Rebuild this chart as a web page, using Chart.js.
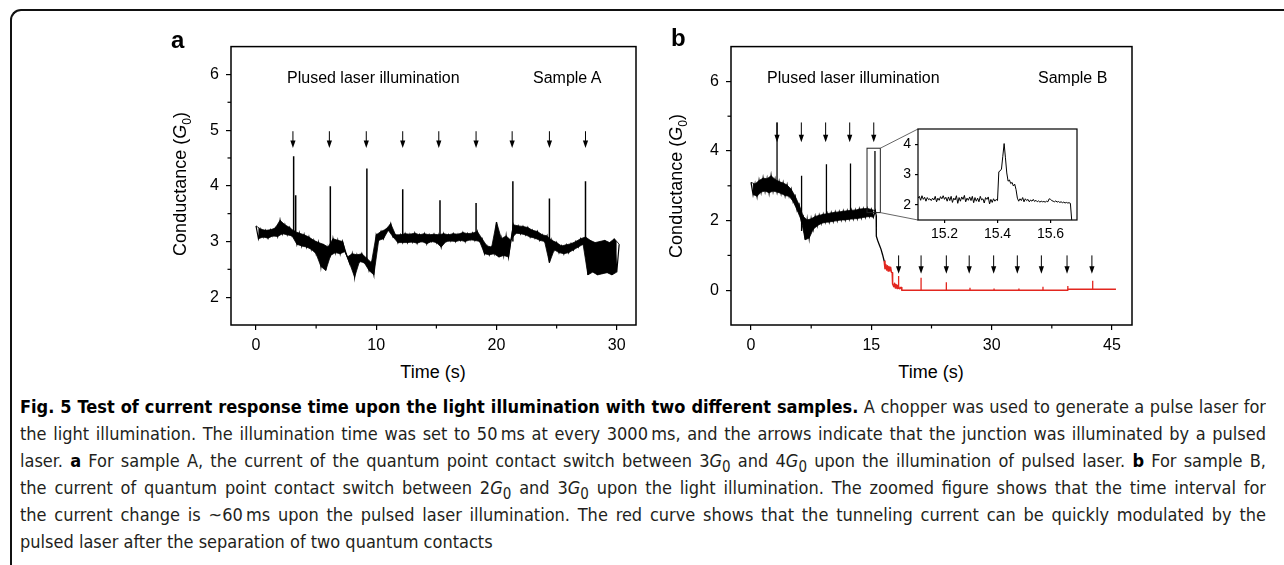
<!DOCTYPE html>
<html>
<head>
<meta charset="utf-8">
<script src="https://cdn.jsdelivr.net/npm/chart.js@4.4.1/dist/chart.umd.min.js"></script>
<style>
  html, body { margin: 0; padding: 0; background: #fff; }
  #page { position: relative; width: 1284px; height: 565px; overflow: hidden; font-family: "Liberation Sans", Arial, sans-serif; color: #000; }
  .frame { position: absolute; left: 10px; top: 9px; width: 1400px; height: 700px; border-top: 2px solid #111; border-left: 2px solid #111; border-top-left-radius: 11px; }
  .wrap { position: absolute; }
  .txt { position: absolute; white-space: nowrap; line-height: 1; }
  .letter { font-weight: bold; font-size: 24px; }
  .note { font-size: 16px; }
  .axt { font-size: 18px; }
  .ytitle { transform: translate(-50%, -50%) rotate(-90deg); }
  .caption { position: absolute; left: 20px; top: 393px; width: 1246px; font-family: "Liberation Sans Narrow", "Arial Narrow", "DejaVu Sans Condensed", sans-serif; font-size: 18px; color: #231f20; }
  .caption div { height: 27px; line-height: 27px; overflow: hidden; text-align: justify; text-align-last: justify; }
  .caption div.last { text-align-last: left; }
  .caption b { color: #000; }
</style>
</head>
<body>
<div id="page">
  <div class="frame"></div>

  <div class="wrap" style="left:170px; top:30px; width:480px; height:330px;"><canvas id="chartA"></canvas></div>
  <div class="wrap" style="left:670px; top:30px; width:480px; height:330px;"><canvas id="chartB"></canvas></div>
  <div class="wrap" style="left:870px; top:115px; width:215px; height:135px;"><canvas id="chartInset"></canvas></div>

  <div class="txt letter" style="left:171px; top:28px;">a</div>
  <div class="txt letter" style="left:671px; top:26px;">b</div>

  <div class="txt note" style="left:287px; top:70px;">Plused laser illumination</div>
  <div class="txt note" style="left:533px; top:70px;">Sample A</div>
  <div class="txt note" style="left:767px; top:70px;">Plused laser illumination</div>
  <div class="txt note" style="left:1038px; top:70px;">Sample B</div>

  <div class="txt axt ytitle" style="left:182px; top:184px;">Conductance (<i>G</i><sub style="font-size:12px;">0</sub>)</div>
  <div class="txt axt ytitle" style="left:678px; top:186px;">Conductance (<i>G</i><sub style="font-size:12px;">0</sub>)</div>
  <div class="txt axt" style="left:433px; top:363px; transform:translateX(-50%);">Time (s)</div>
  <div class="txt axt" style="left:931px; top:363px; transform:translateX(-50%);">Time (s)</div>

  <div class="caption">
    <div><b>Fig. 5 Test of current response time upon the light illumination with two different samples.</b> A chopper was used to generate a pulse laser for</div>
    <div>the light illumination. The illumination time was set to 50&#8201;ms at every 3000&#8201;ms, and the arrows indicate that the junction was illuminated by a pulsed</div>
    <div>laser. <b>a</b> For sample A, the current of the quantum point contact switch between 3<i>G</i><sub>0</sub> and 4<i>G</i><sub>0</sub> upon the illumination of pulsed laser. <b>b</b> For sample B,</div>
    <div>the current of quantum point contact switch between 2<i>G</i><sub>0</sub> and 3<i>G</i><sub>0</sub> upon the light illumination. The zoomed figure shows that the time interval for</div>
    <div>the current change is ~60&#8201;ms upon the pulsed laser illumination. The red curve shows that the tunneling current can be quickly modulated by the</div>
    <div class="last">pulsed laser after the separation of two quantum contacts</div>
  </div>
</div>

<script>
// ---- panel a : sample A, sampled every 0.2 s from t = 0 ----
const A_T0 = 0;
const A_DT = 0.2;
const aCond = [
    3.28, 3.05, 3.22, 3.08, 3.20, 3.06, 3.21, 3.10, 3.24, 3.09,
    3.38, 3.14, 3.30, 3.12, 3.25, 3.10, 3.18, 2.95, 3.15, 2.92,
    3.12, 2.90, 3.08, 2.86, 3.02, 2.78, 2.98, 2.55, 2.95, 2.48,
    2.90, 2.75, 3.05, 2.80, 3.02, 2.78, 3.00, 2.82, 2.72, 2.60,
    2.78, 2.36, 2.76, 2.64, 2.78, 2.62, 2.70, 2.48, 2.62, 2.40,
    3.12, 3.02, 3.18, 3.05, 3.22, 3.20, 3.32, 3.08, 3.12, 2.98,
    3.12, 2.98, 3.14, 2.98, 3.13, 2.99, 3.15, 2.97, 3.12, 3.00,
    3.14, 2.96, 3.12, 3.00, 3.13, 2.98, 3.12, 2.90, 3.14, 3.00,
    3.12, 3.01, 3.14, 3.00, 3.13, 3.02, 3.16, 3.00, 3.14, 3.03,
    3.15, 3.02, 3.18, 3.00, 3.05, 2.78, 2.92, 2.76, 2.90, 2.78,
    3.35, 2.72, 3.05, 2.75, 3.10, 2.72, 3.02, 3.30, 3.15, 3.28,
    3.14, 3.27, 3.12, 3.25, 3.08, 3.20, 3.06, 3.18, 3.02, 3.12,
    3.00, 3.10, 2.62, 3.02, 2.85, 2.98, 2.80, 2.92, 2.78, 2.94,
    2.80, 2.96, 2.85, 3.00, 2.90, 3.05, 2.95, 3.08, 2.40, 3.02,
    2.45, 2.98, 2.40, 3.00, 2.42, 3.02, 2.44, 2.98, 2.40, 3.05,
    2.45, 2.95
];
const aSpikeT    = [3.13, 3.3, 6.18, 9.22, 12.2, 15.3, 18.3, 21.36, 24.4, 27.4];
const aSpikeTop  = [4.53, 3.83, 3.99, 4.31, 3.94, 3.74, 3.69, 4.08, 3.77, 4.08];
const aSpikeBase = [3.15, 3.10, 2.80, 2.60, 3.05, 3.05, 3.05, 3.00, 3.00, 3.00];
const aArrowT = [3.07, 6.1, 9.17, 12.2, 15.2, 18.3, 21.3, 24.4, 27.4];
const aArrowTop = 4.98;
const aArrowTip = 4.68;

// ---- panel b : sample B, black part sampled every 0.25 s from t = 0 ----
const B_T0 = 0;
const B_DT = 0.25;
const bCond = [
    3.10, 2.75, 3.05, 2.70, 3.15, 2.82, 3.22, 2.85, 3.20, 2.80,
    3.29, 2.85, 3.18, 2.82, 3.12, 2.78, 3.08, 2.72, 3.02, 2.70,
    2.90, 2.55, 2.70, 2.30, 2.45, 2.02, 2.12, 1.45, 2.02, 1.50,
    2.05, 1.75, 2.12, 1.85, 2.15, 1.92, 2.18, 1.95, 2.20, 1.96,
    2.22, 1.98, 2.24, 2.00, 2.25, 2.02, 2.27, 2.02, 2.28, 2.04,
    2.30, 2.05, 2.30, 2.06, 2.33, 2.08, 2.34, 2.10, 2.35, 2.12,
    2.32, 2.10, 2.28
];
const bTailT = [15.6, 15.62, 15.8, 16.0, 16.2, 16.4, 16.6];
const bTailY = [2.15, 1.55, 1.42, 1.30, 1.18, 1.02, 0.84];
const bRedT = [16.6, 16.7, 16.8, 16.9, 17.0, 17.1, 17.2, 17.3, 17.4, 17.5, 17.6, 17.65, 17.8, 17.9, 18.0, 18.1, 18.2, 18.3, 18.5, 18.7, 18.8, 39.4, 39.5, 45.5];
const bRedY = [0.84, 0.62, 0.74, 0.58, 0.70, 0.55, 0.68, 0.56, 0.66, 0.52, 0.50, 0.18, 0.10, 0.20, 0.06, 0.16, 0.05, 0.14, 0.04, 0.08, 0.00, 0.00, 0.03, 0.03];
const bSpikeT    = [3.24, 6.3, 9.4, 12.4, 15.45];
const bSpikeTop  = [4.82, 3.29, 3.62, 3.64, 4.00];
const bSpikeBase = [3.00, 1.70, 2.00, 2.10, 2.20];
const bRedSpikeT    = [18.4, 21.2, 24.35, 27.3, 30.3, 33.4, 36.4, 39.5, 42.6];
const bRedSpikeTop  = [0.41, 0.36, 0.23, 0.07, 0.05, 0.05, 0.10, 0.12, 0.27];
const bRedSpikeBase = [0.05, 0.00, 0.00, 0.00, 0.00, 0.00, 0.00, 0.03, 0.03];
const bArrowHiT = [3.24, 6.27, 9.3, 12.3, 15.3];
const bArrowHiTop = 4.82;
const bArrowHiTip = 4.25;
const bArrowLoT = [18.4, 21.2, 24.35, 27.2, 30.25, 33.2, 36.2, 39.4, 42.5];
const bArrowLoTop = 1.0;
const bArrowLoTip = 0.47;
// zoomed window marked in panel b (time s, conductance)
const bZoomT = [14.46, 16.12];
const bZoomG = [2.23, 4.08];

// ---- inset : 15.1 .. 15.68 s, every 5 ms ----
const IN_T0 = 15.1;
const IN_DT = 0.005;
const inCond = [
    2.22, 2.28, 2.15, 2.30, 2.18, 2.25, 2.12, 2.24, 2.17, 2.20,
    2.14, 2.22, 2.16, 2.28, 2.10, 2.22, 2.15, 2.27, 2.20, 2.30,
    2.18, 2.25, 2.12, 2.26, 2.14, 2.28, 2.08, 2.22, 2.16, 2.30,
    2.05, 2.24, 2.12, 2.26, 2.18, 2.31, 2.10, 2.22, 2.15, 2.26,
    2.14, 2.28, 2.07, 2.24, 2.12, 2.22, 2.10, 2.28, 2.16, 2.20,
    2.06, 2.24, 2.18, 2.26, 2.03, 2.18, 2.08, 2.20, 2.12, 2.18,
    2.14, 3.09, 3.12, 3.18, 3.60, 4.02, 3.55, 3.05, 2.78, 2.82,
    2.70, 2.74, 2.62, 2.68, 2.50, 2.22, 2.12, 2.20, 2.14, 2.24,
    2.10, 2.20, 2.14, 2.18, 2.10, 2.16, 2.12, 2.18, 2.11, 2.15,
    2.10, 2.13, 2.09, 2.12, 2.10, 2.11, 2.09, 2.12, 2.10, 2.20,
    2.18, 2.14, 2.12, 2.10, 2.13, 2.09, 2.11, 2.08, 2.10, 2.07,
    2.09, 2.06, 2.08, 2.06, 2.07, 2.05, 1.50
];

// tick values
const aTicksX = [0, 10, 20, 30];
const aMinorX = [5, 15, 25];
const aTicksY = [2, 3, 4, 5, 6];
const aMinorY = [2.5, 3.5, 4.5, 5.5];
const bTicksX = [0, 15, 30, 45];
const bMinorX = [7.5, 22.5, 37.5];
const bTicksY = [0, 2, 4, 6];
const bMinorY = [1, 3, 5];
const inTicksX = [15.2, 15.4, 15.6];
const inTicksY = [2, 3, 4];

// layout of the inset plot area on the page, used for the connector lines
const INSET_AREA = { left: 918, top: 129, right: 1077, bottom: 220 };
const B_ORIGIN = { left: 670, top: 30 };

const RED = '#e2261f';
const FONT = '"Liberation Sans", Arial, sans-serif';

function sampled(t0, dt, values) {
    return values.map((v, i) => ({ x: +(t0 + i * dt).toFixed(4), y: v }));
}
// every other sample of a noisy trace (parity 0 = crests, 1 = troughs), used to shade the noise band
function alternate(t0, dt, values, parity) {
    return sampled(t0, dt, values).filter((p, i) => i % 2 === parity);
}
function paired(ts, ys) {
    return ts.map((t, i) => ({ x: t, y: ys[i] }));
}
function spikes(ts, tops, bases) {
    const pts = [];
    ts.forEach((t, i) => {
        pts.push({ x: t, y: bases[i] }, { x: t, y: tops[i] }, { x: t, y: null });
    });
    return pts;
}
function line(data, color, width, join) {
    return { data, borderColor: color, borderWidth: width, pointRadius: 0, tension: 0, fill: false, spanGaps: false, borderJoinStyle: join || 'round' };
}
function bandPair(t0, dt, values, color) {
    return [
        { data: alternate(t0, dt, values, 0), borderColor: color, borderWidth: 0.8, backgroundColor: color, pointRadius: 0, tension: 0, fill: '+1' },
        { data: alternate(t0, dt, values, 1), borderColor: color, borderWidth: 0.8, pointRadius: 0, tension: 0, fill: false }
    ];
}

function axis(min, max, ticks, size, fontSize, tickLen, pad, pos) {
    return {
        type: 'linear',
        position: pos,
        min, max,
        afterBuildTicks: s => { s.ticks = ticks.map(v => ({ value: v })); },
        afterFit: s => { if (pos === 'left') s.width = size; else s.height = size; },
        grid: { display: true, drawOnChartArea: false, drawTicks: true, tickLength: tickLen, color: '#000', lineWidth: 1.2 },
        border: { display: false },
        ticks: {
            color: '#000',
            padding: pad,
            font: { family: FONT, size: fontSize },
            maxRotation: 0,
            autoSkip: false,
            callback: v => String(v)
        }
    };
}

// box, minor ticks, arrows and zoom window
function decor(cfg) {
    return {
        id: 'decor',
        afterDraw(chart) {
            const ctx = chart.ctx;
            const area = chart.chartArea;
            const xs = chart.scales.x, ys = chart.scales.y;
            ctx.save();
            ctx.strokeStyle = '#000';
            ctx.lineWidth = cfg.boxWidth || 1.5;
            ctx.strokeRect(area.left, area.top, area.right - area.left, area.bottom - area.top);

            ctx.lineWidth = 1.2;
            (cfg.minorX || []).forEach(v => {
                const x = xs.getPixelForValue(v);
                ctx.beginPath(); ctx.moveTo(x, area.bottom); ctx.lineTo(x, area.bottom + 3.5); ctx.stroke();
            });
            (cfg.minorY || []).forEach(v => {
                const y = ys.getPixelForValue(v);
                ctx.beginPath(); ctx.moveTo(area.left, y); ctx.lineTo(area.left - 3.5, y); ctx.stroke();
            });

            (cfg.arrows || []).forEach(set => {
                set.t.forEach(t => {
                    const x = xs.getPixelForValue(t);
                    const y0 = ys.getPixelForValue(set.top);
                    const y1 = ys.getPixelForValue(set.tip);
                    ctx.lineWidth = 1;
                    ctx.beginPath(); ctx.moveTo(x, y0); ctx.lineTo(x, y1 - 5); ctx.stroke();
                    ctx.fillStyle = '#000';
                    ctx.beginPath();
                    ctx.moveTo(x - 2.6, y1 - 7.5);
                    ctx.lineTo(x + 2.6, y1 - 7.5);
                    ctx.lineTo(x, y1);
                    ctx.closePath();
                    ctx.fill();
                });
            });

            if (cfg.zoom) {
                const z = cfg.zoom;
                const x0 = xs.getPixelForValue(z.t[0]), x1 = xs.getPixelForValue(z.t[1]);
                const yTop = ys.getPixelForValue(z.g[1]), yBot = ys.getPixelForValue(z.g[0]);
                ctx.lineWidth = 1;
                ctx.strokeStyle = '#222';
                ctx.strokeRect(x0, yTop, x1 - x0, yBot - yTop);
                const tx = z.area.left - z.origin.left;
                ctx.strokeStyle = '#555';
                ctx.lineWidth = 0.9;
                ctx.beginPath();
                ctx.moveTo(x1, yTop); ctx.lineTo(tx, z.area.top - z.origin.top);
                ctx.moveTo(x1, yBot); ctx.lineTo(tx, z.area.bottom - z.origin.top);
                ctx.stroke();
            }
            ctx.restore();
        }
    };
}

function baseOptions(xAxis, yAxis, padding) {
    return {
        responsive: true,
        maintainAspectRatio: false,
        animation: false,
        events: [],
        layout: { padding },
        plugins: { legend: { display: false }, tooltip: { enabled: false }, filler: { propagate: false } },
        scales: { x: xAxis, y: yAxis }
    };
}

new Chart(document.getElementById('chartA'), {
    type: 'line',
    data: {
        datasets: [
            ...bandPair(A_T0, A_DT, aCond, '#000'),
            line(sampled(A_T0, A_DT, aCond), '#000', 1.2, 'miter'),
            line(spikes(aSpikeT, aSpikeTop, aSpikeBase), '#000', 1.5)
        ]
    },
    options: baseOptions(
        axis(-2.08, 31.6, aTicksX, 35, 16, 5, 6, 'bottom'),
        axis(1.5, 6.5, aTicksY, 61, 16, 5, 7, 'left'),
        { left: 0, right: 14, top: 13, bottom: 0 }
    ),
    plugins: [decor({
        minorX: aMinorX, minorY: aMinorY,
        arrows: [{ t: aArrowT, top: aArrowTop, tip: aArrowTip }]
    })]
});

new Chart(document.getElementById('chartB'), {
    type: 'line',
    data: {
        datasets: [
            ...bandPair(B_T0, B_DT, bCond, '#000'),
            line(sampled(B_T0, B_DT, bCond).concat(paired(bTailT, bTailY)), '#000', 1.3, 'miter'),
            line(spikes(bSpikeT, bSpikeTop, bSpikeBase), '#000', 1.3),
            line(paired(bRedT, bRedY), RED, 1.5),
            line(spikes(bRedSpikeT, bRedSpikeTop, bRedSpikeBase), RED, 1.3)
        ]
    },
    options: baseOptions(
        axis(-2.5, 47.5, bTicksX, 35, 16, 5, 6, 'bottom'),
        axis(-1, 7, bTicksY, 61, 16, 5, 7, 'left'),
        { left: 0, right: 18, top: 16, bottom: 0 }
    ),
    plugins: [decor({
        minorX: bMinorX, minorY: bMinorY,
        arrows: [
            { t: bArrowHiT, top: bArrowHiTop, tip: bArrowHiTip },
            { t: bArrowLoT, top: bArrowLoTop, tip: bArrowLoTip }
        ],
        zoom: { t: bZoomT, g: bZoomG, area: INSET_AREA, origin: B_ORIGIN }
    })]
});

new Chart(document.getElementById('chartInset'), {
    type: 'line',
    data: {
        datasets: [line(sampled(IN_T0, IN_DT, inCond), '#000', 1)]
    },
    options: baseOptions(
        axis(15.1, 15.7, inTicksX, 30, 14, 3, 3, 'bottom'),
        axis(1.5, 4.5, inTicksY, 48, 14, 3, 4, 'left'),
        { left: 0, right: 8, top: 14, bottom: 0 }
    ),
    plugins: [decor({ boxWidth: 1.2 })]
});
</script>
</body>
</html>
